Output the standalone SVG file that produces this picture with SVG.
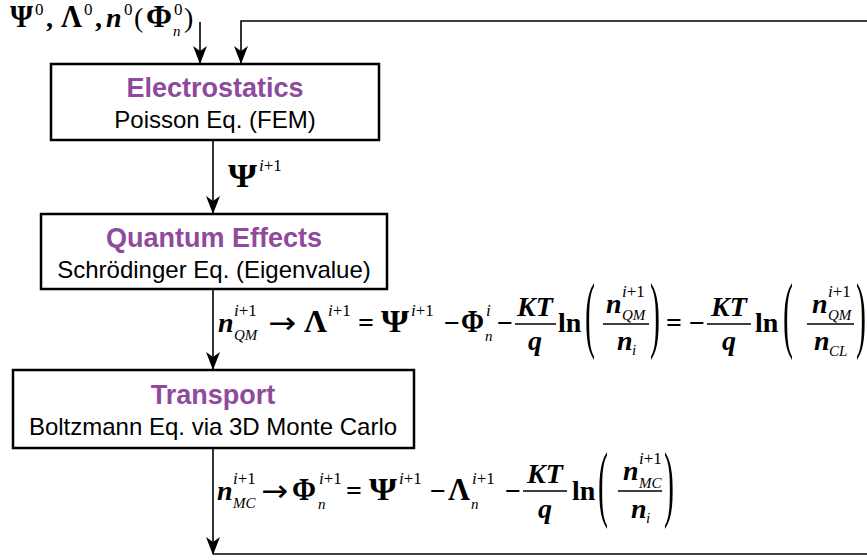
<svg xmlns="http://www.w3.org/2000/svg" width="867" height="560" viewBox="0 0 867 560">
<defs>
<style>
.box{fill:#fff;stroke:#000;stroke-width:2.5}
.ttl{font-family:"Liberation Sans",Arial,sans-serif;font-weight:bold;font-size:27px;fill:#8E4A9C;text-anchor:middle}
.sub{font-family:"Liberation Sans",Arial,sans-serif;font-size:24px;fill:#000;text-anchor:middle}
.ln{fill:none;stroke:#000;stroke-width:1.6}
.m{font-family:"Liberation Serif","Times New Roman",serif;font-size:28px;font-weight:bold;fill:#000}
.g{font-family:"Liberation Serif","Times New Roman",serif;font-size:31px;font-weight:bold;fill:#000}
.i{font-style:italic}
.s{font-family:"Liberation Serif","Times New Roman",serif;font-size:17px;fill:#000}
.ss{font-family:"Liberation Serif","Times New Roman",serif;font-size:15px;font-style:italic;fill:#000}
.p{font-family:"Liberation Serif","Times New Roman",serif;font-size:30px;fill:#000}
.ar{font-family:"DejaVu Sans",sans-serif;font-size:30px;fill:#000}
.bar{stroke:#000;stroke-width:1.5}
</style>
<marker id="ah" markerWidth="18" markerHeight="14" refX="17" refY="7" orient="auto" markerUnits="userSpaceOnUse" viewBox="0 0 18 14">
<path d="M0,0 L5,7 L0,14 L18,7 Z" fill="#000"/>
</marker>
</defs>

<g id="connectors">
<line class="ln" x1="200" y1="22" x2="200" y2="63" marker-end="url(#ah)"/>
<line class="ln" x1="213" y1="140" x2="213" y2="213" marker-end="url(#ah)"/>
<line class="ln" x1="213" y1="289" x2="213" y2="369" marker-end="url(#ah)"/>
<line class="ln" x1="213" y1="448" x2="213" y2="554" marker-end="url(#ah)"/>
<polyline class="ln" points="213,554 870,554 870,21 241,21 241,63" marker-end="url(#ah)"/>
</g>

<g id="electrostatics">
<rect class="box" x="51" y="64" width="328" height="76"/>
<text class="ttl" x="215" y="97">Electrostatics</text>
<text class="sub" x="215" y="128">Poisson Eq. (FEM)</text>
</g>

<g id="quantum">
<rect class="box" x="41" y="214" width="346" height="75"/>
<text class="ttl" x="214" y="247">Quantum Effects</text>
<text class="sub" x="214" y="278">Schrödinger Eq. (Eigenvalue)</text>
</g>

<g id="transport">
<rect class="box" x="13" y="370" width="401" height="78"/>
<text class="ttl" x="213" y="404">Transport</text>
<text class="sub" x="213" y="435">Boltzmann Eq. via 3D Monte Carlo</text>
</g>

<g id="initial-label">
<text class="g" x="10" y="27" textLength="23" lengthAdjust="spacingAndGlyphs">Ψ</text>
<text class="s" x="35" y="15">0</text>
<text class="m" x="46" y="27">,</text>
<text class="g" x="61" y="27" textLength="21" lengthAdjust="spacingAndGlyphs">Λ</text>
<text class="s" x="84" y="15">0</text>
<text class="m" x="95" y="27">,</text>
<text class="m i" x="106" y="27">n</text>
<text class="s" x="124" y="15">0</text>
<text class="m" x="134" y="27" style="font-weight:normal">(</text>
<text class="g" x="146" y="27" textLength="26" lengthAdjust="spacingAndGlyphs">Φ</text>
<text class="s" x="174" y="15">0</text>
<text class="ss" x="173" y="36">n</text>
<text class="m" x="184" y="27" style="font-weight:normal">)</text>
</g>

<g id="eq-psi">
<text class="g" x="228" y="187" style="font-size:33px" textLength="29" lengthAdjust="spacingAndGlyphs">Ψ</text>
<text class="s" x="259" y="171"><tspan font-style="italic">i</tspan>+1</text>
</g>

<g id="eq-lambda">
<text class="m i" x="218" y="332">n</text>
<text class="s" x="234" y="316"><tspan font-style="italic">i</tspan>+1</text>
<text class="ss" x="234" y="340">QM</text>
<text class="ar" x="268" y="333" textLength="28" lengthAdjust="spacingAndGlyphs">→</text>
<text class="g" x="304" y="332" textLength="23" lengthAdjust="spacingAndGlyphs">Λ</text>
<text class="s" x="328" y="316"><tspan font-style="italic">i</tspan>+1</text>
<text class="m" x="358" y="332">=</text>
<text class="g" x="381" y="332" textLength="28" lengthAdjust="spacingAndGlyphs">Ψ</text>
<text class="s" x="411" y="316"><tspan font-style="italic">i</tspan>+1</text>
<text class="m" x="444" y="332">−</text>
<text class="g" x="461" y="332" textLength="23" lengthAdjust="spacingAndGlyphs">Φ</text>
<text class="s" x="486" y="316" font-style="italic">i</text>
<text class="ss" x="485" y="341">n</text>
<text class="m" x="497" y="332">−</text>
<line class="bar" x1="515" y1="324" x2="556" y2="324"/>
<text class="m i" x="535" y="316" text-anchor="middle">KT</text>
<text class="m i" x="535" y="350" text-anchor="middle">q</text>
<text class="m" x="558" y="332">ln</text>
<text class="p" transform="translate(585,322) scale(1,2.8)" y="7">(</text>
<line class="bar" x1="603" y1="324" x2="649" y2="324"/>
<text class="m i" x="606" y="313">n</text>
<text class="s" x="622" y="297"><tspan font-style="italic">i</tspan>+1</text>
<text class="ss" x="622" y="320">QM</text>
<text class="m i" x="617" y="350">n</text>
<text class="ss" x="632" y="355">i</text>
<text class="p" transform="translate(650,322) scale(1,2.8)" y="7">)</text>
<text class="m" x="666" y="332">=</text>
<text class="m" x="689" y="332">−</text>
<line class="bar" x1="707" y1="324" x2="751" y2="324"/>
<text class="m i" x="729" y="316" text-anchor="middle">KT</text>
<text class="m i" x="729" y="350" text-anchor="middle">q</text>
<text class="m" x="755" y="332">ln</text>
<text class="p" transform="translate(783,322) scale(1,2.8)" y="7">(</text>
<line class="bar" x1="807" y1="324" x2="854" y2="324"/>
<text class="m i" x="812" y="313">n</text>
<text class="s" x="828" y="297"><tspan font-style="italic">i</tspan>+1</text>
<text class="ss" x="828" y="320">QM</text>
<text class="m i" x="814" y="350">n</text>
<text class="ss" x="829" y="356">CL</text>
<text class="p" transform="translate(856,322) scale(1,2.8)" y="7">)</text>
</g>

<g id="eq-phi">
<text class="m i" x="217" y="500">n</text>
<text class="s" x="233" y="484"><tspan font-style="italic">i</tspan>+1</text>
<text class="ss" x="233" y="508">MC</text>
<text class="ar" x="261" y="501" textLength="27" lengthAdjust="spacingAndGlyphs">→</text>
<text class="g" x="292" y="500" textLength="24" lengthAdjust="spacingAndGlyphs">Φ</text>
<text class="s" x="319" y="484"><tspan font-style="italic">i</tspan>+1</text>
<text class="ss" x="318" y="509">n</text>
<text class="m" x="346" y="500">=</text>
<text class="g" x="369" y="500" textLength="28" lengthAdjust="spacingAndGlyphs">Ψ</text>
<text class="s" x="399" y="484"><tspan font-style="italic">i</tspan>+1</text>
<text class="m" x="430" y="500">−</text>
<text class="g" x="448" y="500" textLength="22" lengthAdjust="spacingAndGlyphs">Λ</text>
<text class="s" x="472" y="484"><tspan font-style="italic">i</tspan>+1</text>
<text class="ss" x="471" y="509">n</text>
<text class="m" x="505" y="500">−</text>
<line class="bar" x1="523" y1="491" x2="567" y2="491"/>
<text class="m i" x="545" y="483" text-anchor="middle">KT</text>
<text class="m i" x="545" y="518" text-anchor="middle">q</text>
<text class="m" x="572" y="500">ln</text>
<text class="p" transform="translate(598,491) scale(1,2.8)" y="7">(</text>
<line class="bar" x1="618" y1="491" x2="662" y2="491"/>
<text class="m i" x="623" y="480">n</text>
<text class="s" x="639" y="464"><tspan font-style="italic">i</tspan>+1</text>
<text class="ss" x="639" y="488">MC</text>
<text class="m i" x="631" y="518">n</text>
<text class="ss" x="646" y="523">i</text>
<text class="p" transform="translate(664,491) scale(1,2.8)" y="7">)</text>
</g>
</svg>
